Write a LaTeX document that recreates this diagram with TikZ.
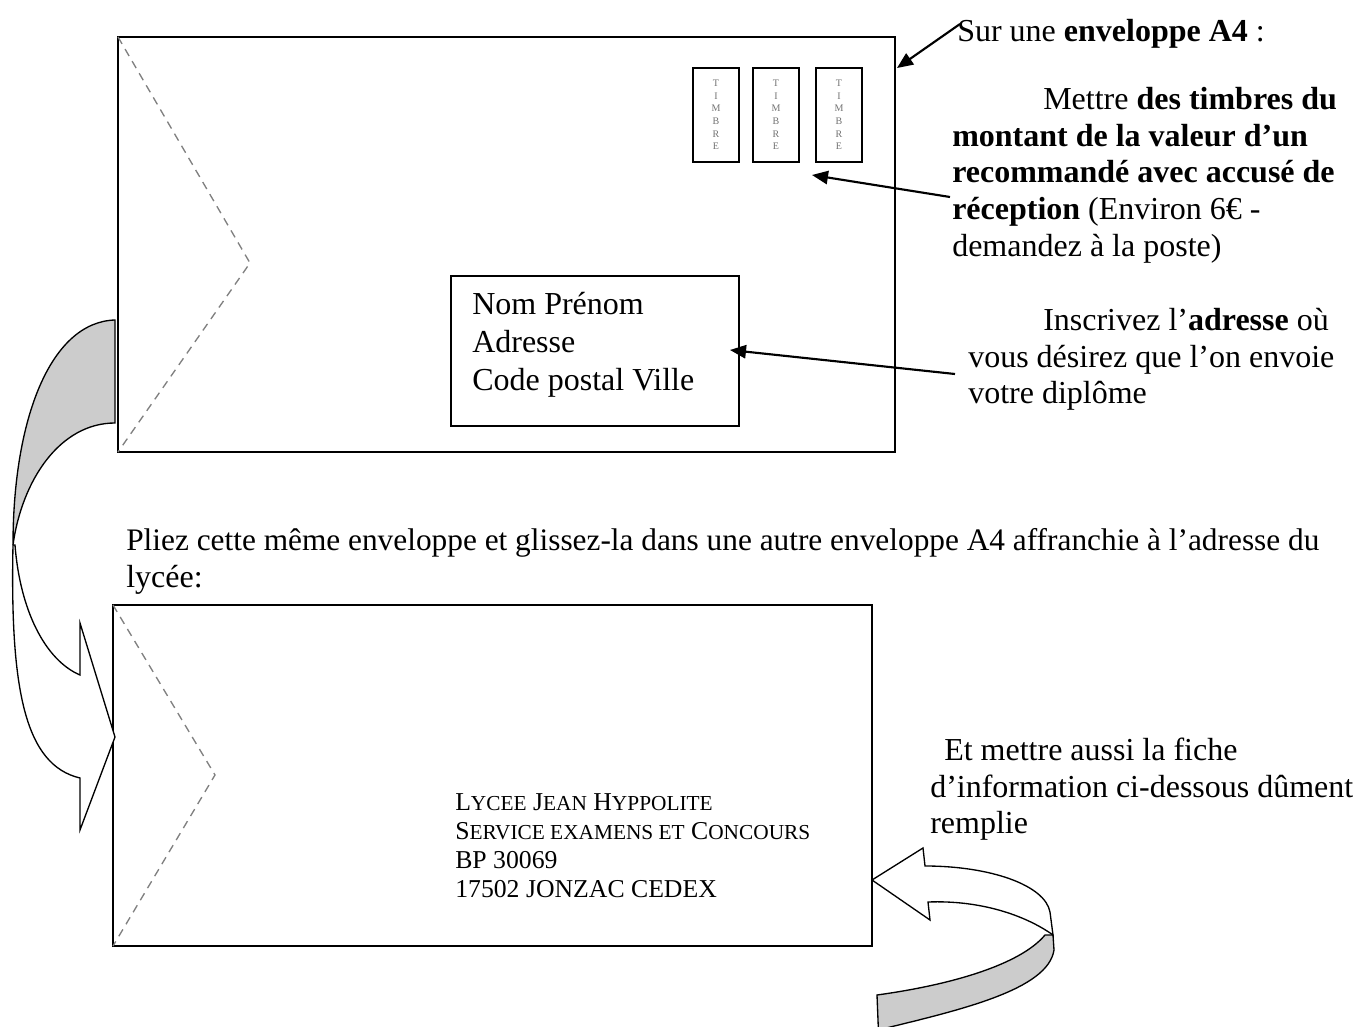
\documentclass[tikz,border=0pt]{standalone}
\usepackage{fontspec}
\setmainfont{Liberation Serif}
\usetikzlibrary{arrows.meta}
\newcommand\myfsc{\fontsize{16}{16}\selectfont}
\begin{document}
\begin{tikzpicture}[x=0.75pt,y=-0.75pt,
  env/.style={draw=black,line width=1.3pt},
  adrbox/.style={draw=black,line width=1.1pt},
  flap/.style={draw=gray,dash pattern=on 6pt off 4.5pt,line width=1pt},
  stampbox/.style={draw=black,line width=1.5pt,minimum width=34.5pt,minimum height=70.5pt,inner sep=0pt,
    font=\fontsize{7.5}{9.5}\selectfont,text=black!55,align=center},
  txt/.style={anchor=base west,inner sep=0pt,font=\fontsize{24}{27.75}\selectfont},
  adrtxt/.style={anchor=base west,inner sep=0pt,font=\fontsize{19.3}{21.75}\selectfont},
  ptr/.style={line width=1.6pt,-{Triangle[length=12pt,width=10pt]}},
  band/.style={draw=black,line width=1pt,fill=black!20},
  front/.style={draw=black,line width=1pt,fill=white},
]
\useasboundingbox[fill=white] (0,0) rectangle (1354,1027);

% ---------- top envelope ----------
\draw[env] (118,37) rectangle (895,452);
\draw[flap] (118,37) -- (250,263) -- (118,452);

\node[stampbox] (s1) at (716,115) {T\\I\\M\\B\\R\\E};
\node[stampbox] (s2) at (776,115) {T\\I\\M\\B\\R\\E};
\node[stampbox] (s3) at (839,115) {T\\I\\M\\B\\R\\E};

\draw[adrbox] (451,276) rectangle (739,426);
\node[txt] (n1) at (472,315) {Nom Prénom};
\node[txt] (n2) at (472,352) {Adresse};
\node[txt] (n3) at (472,390) {Code postal Ville};

% ---------- right texts ----------
\node[txt] (sur) at (957,42) {Sur une \textbf{enveloppe A4} :};
\node[txt] (m1) at (1043,110) {Mettre \textbf{des timbres du}};
\node[txt] (m2) at (952,147) {\textbf{montant de la valeur d’un}};
\node[txt] (m3) at (952,183) {\textbf{recommandé avec accusé de}};
\node[txt] (m4) at (952,220) {\textbf{réception} (Environ 6€ -};
\node[txt] (m5) at (952,257) {demandez à la poste)};

\node[txt] (i1) at (1043,330) {Inscrivez l’\textbf{adresse} où};
\node[txt] (i2) at (968,367) {vous désirez que l’on envoie};
\node[txt] (i3) at (968,403) {votre diplôme};

\coordinate (t1) at (960,24);  \coordinate (h1) at (897,68);
\coordinate (t2) at (950,197); \coordinate (h2) at (812,175);
\coordinate (t3) at (955,374); \coordinate (h3) at (730,350);
\draw[ptr] (t1) -- (h1);
\draw[ptr] (t2) -- (h2);
\draw[ptr] (t3) -- (h3);

% ---------- middle text ----------
\node[txt,font=\fontsize{23.5}{27.75}\selectfont] (p1) at (126,550) {Pliez cette même enveloppe et glissez-la dans une autre enveloppe A4 affranchie à l’adresse du};
\node[txt] (p2) at (126,587) {lycée:};

% ---------- bottom envelope ----------
\draw[env] (113,605) rectangle (872,946);
\draw[flap] (113,605) -- (215,775) -- (113,946);

\node[adrtxt] (l1) at (455,810) {L{\myfsc YCEE} J{\myfsc EAN} H{\myfsc YPPOLITE}};
\node[adrtxt] (l2) at (455,839) {S{\myfsc ERVICE EXAMENS ET} C{\myfsc ONCOURS}};
\node[adrtxt] (l3) at (455,868) {BP 30069};
\node[adrtxt] (l4) at (455,897) {17502 JONZAC CEDEX};

\node[txt] (e1) at (944,760) {Et mettre aussi la fiche};
\node[txt] (e2) at (930,797) {d’information ci-dessous dûment};
\node[txt] (e3) at (930,833) {remplie};

% ---------- left curved arrow ----------
\draw[band] (115,320) .. controls (50,322) and (13,420) .. (13,545)
  .. controls (22,480) and (60,423) .. (115,423) -- cycle;
\draw[front] (13,545) .. controls (10,690) and (25,765) .. (80,778)
  -- (80,830) -- (115,737) -- (80,623) -- (80,675)
  .. controls (45,660) and (20,610) .. (15,545) -- cycle;

% ---------- bottom right curved arrow ----------
\draw[band] (877,995) .. controls (950,985) and (1020,965) .. (1045,935)
  -- (1053,935) -- (1054,950) .. controls (1048,990) and (960,1010) .. (878,1030)
  -- (879,1045) -- cycle;
\draw[front] (872,880) -- (923,848) -- (925,866)
  .. controls (990,866) and (1045,885) .. (1050,912) -- (1053,935)
  .. controls (1025,915) and (980,900) .. (928,902) -- (930,920) -- cycle;
\end{tikzpicture}
\end{document}
